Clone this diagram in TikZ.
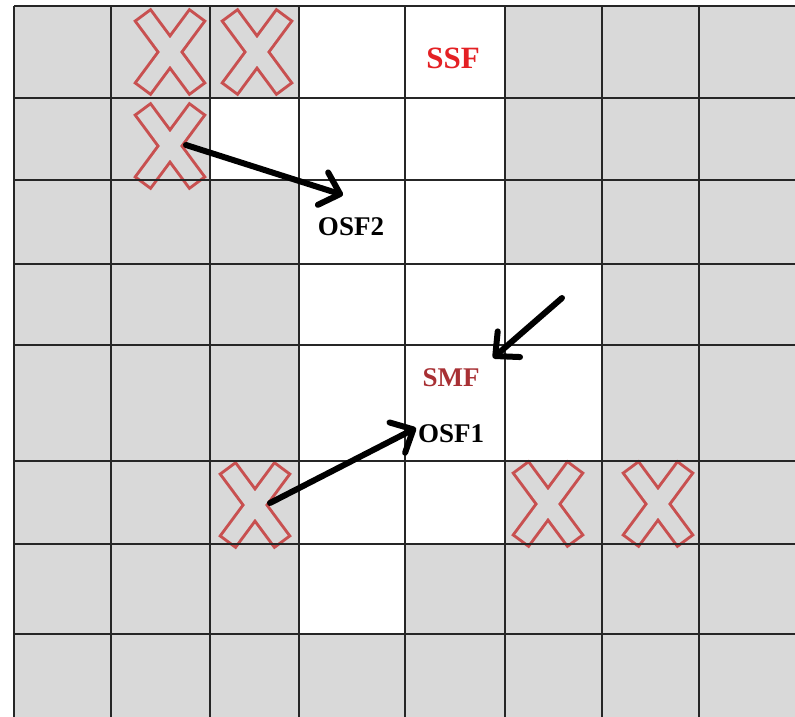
\documentclass[tikz,border=0pt]{standalone}
\usepackage{fontspec}
\setmainfont{Liberation Serif}
\usetikzlibrary{arrows.meta}
\definecolor{cellgray}{RGB}{217,217,217}
\definecolor{crossred}{RGB}{200,80,80}
\definecolor{ssfred}{RGB}{228,32,36}
\definecolor{smfred}{RGB}{168,48,52}
\tikzset{
  gridline/.style={line width=2pt, black!85},
  crossmark/.pic={
    \draw[crossred, line width=6pt, rotate=53.5] (-44,-8) rectangle (44,8);
    \draw[crossred, line width=6pt, rotate=-53.5] (-44,-8) rectangle (44,8);
    \fill[cellgray, rotate=53.5] (-44,-8) rectangle (44,8);
    \fill[cellgray, rotate=-53.5] (-44,-8) rectangle (44,8);
  },
  lbl/.style={font=\fontsize{27}{27}\selectfont\bfseries, inner sep=0pt},
  bigarrow/.style={line width=6pt, line cap=round, -{Straight Barb[length=18pt, width=34pt, line width=6pt, round]}},
}
\begin{document}
\begin{tikzpicture}[x=1pt, y=-1pt]
\useasboundingbox (0,0) rectangle (795,717);
\fill[white] (0,0) rectangle (795,717);
% grey field
\fill[cellgray] (14,6) rectangle (795,717);
% white cells
\fill[white] (299,6) rectangle (505,98);
\fill[white] (210,98) rectangle (505,180);
\fill[white] (299,180) rectangle (505,264);
\fill[white] (299,264) rectangle (602,461);
\fill[white] (299,461) rectangle (505,544);
\fill[white] (299,544) rectangle (405,634);
% crosses
\coordinate (x1) at (170,52);
\coordinate (x2) at (257,52);
\coordinate (x3) at (170,146);
\coordinate (x4) at (255,505);
\coordinate (x5) at (548,504);
\coordinate (x6) at (658,504);
\foreach \c in {x1,x2,x3,x4,x5,x6} \pic at (\c) {crossmark};
% grid
\foreach \x in {14,111,210,299,405,505,602,699} \draw[gridline] (\x,6) -- (\x,717);
\foreach \y in {6,98,180,264,345,461,544,634} \draw[gridline] (14,\y) -- (795,\y);
% labels
\node[lbl, text=ssfred, font=\fontsize{31}{31}\selectfont\bfseries] (ssf) at (453,58) {SSF};
\node[lbl] (osf2) at (351,227) {OSF2};
\node[lbl, text=smfred] (smf) at (451,378) {SMF};
\node[lbl] (osf1) at (451,434) {OSF1};
% arrow ends
\coordinate (a1s) at (186,145);
\coordinate (a1e) at (343,195);
\coordinate (a2s) at (562,298);
\coordinate (a2e) at (493,358);
\coordinate (a3s) at (270,503);
\coordinate (a3e) at (416,428);
\draw[bigarrow] (a1s) -- (a1e);
\draw[bigarrow] (a2s) -- (a2e);
\draw[bigarrow] (a3s) -- (a3e);
\end{tikzpicture}
\end{document}
